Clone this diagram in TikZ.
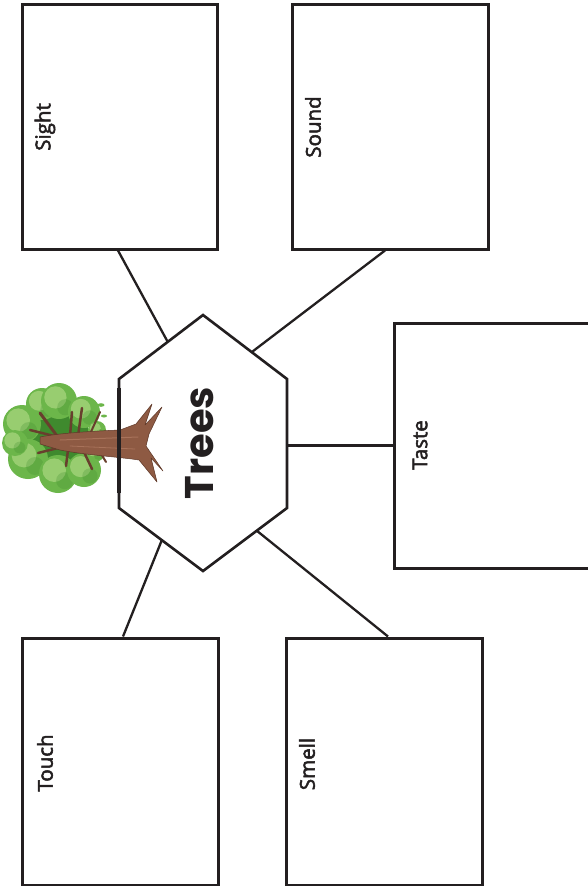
\documentclass[tikz,border=0pt]{standalone}
\usepackage{fontspec}
\newfontfamily\labelfont[FakeBold=2.5]{Open Sans}
\newfontfamily\titlefont{Poppins}
\usetikzlibrary{calc}
\definecolor{ink}{HTML}{231F20}
\definecolor{leafdark}{HTML}{3F8A2E}
\definecolor{leafmid}{HTML}{6CB64A}
\definecolor{leaflight}{HTML}{A8D67E}
\definecolor{bark}{HTML}{8E5A43}
\definecolor{barklight}{HTML}{A8725A}
\definecolor{barkdark}{HTML}{5E3828}
\tikzset{
  sensebox/.style={draw=ink, line width=3pt, fill=white, inner sep=0pt},
  senselabel/.style={font=\labelfont\fontsize{20.5}{20.5}\selectfont, text=ink, rotate=90, inner sep=0pt},
  title/.style={font=\titlefont\bfseries\fontsize{40}{40}\selectfont, text=ink, rotate=90, inner sep=0pt},
  link/.style={draw=ink, line width=2.3pt},
  hexline/.style={draw=ink, line width=2.6pt, line join=miter},
  branch/.style={draw=barkdark!80!bark, line cap=round},
}
\begin{document}
\begin{tikzpicture}[x=1pt, y=-1pt]
\useasboundingbox (0,0) rectangle (588,886);
\clip (0,0) rectangle (588,886);
\fill[white] (0,0) rectangle (588,886);

% sense boxes
\node[sensebox, minimum width=195pt, minimum height=245pt] (sight) at (119.5,126.5) {};
\node[sensebox, minimum width=196pt, minimum height=245pt] (sound) at (390,126.5) {};
\node[sensebox, minimum width=196pt, minimum height=245pt] (taste) at (492,445.5) {};
\node[sensebox, minimum width=196pt, minimum height=247pt] (touch) at (120,761.5) {};
\node[sensebox, minimum width=196pt, minimum height=247pt] (smell) at (384,761.5) {};

\node[senselabel] (sightlbl) at (45,127) {Sight};
\node[senselabel] (soundlbl) at (313,127) {Sound};
\node[senselabel] (tastelbl) at (420,445) {Taste};
\node[senselabel] (touchlbl) at (45,763) {Touch};
\node[senselabel] (smelllbl) at (307,764) {Smell};

% central hexagon
\coordinate (hT)  at (203,315);
\coordinate (hUR) at (287,379);
\coordinate (hLR) at (287,508);
\coordinate (hB)  at (203,571);
\coordinate (hLL) at (119,508);
\coordinate (hUL) at (119,379);
\filldraw[hexline, fill=white] (hT) -- (hUR) -- (hLR) -- (hB) -- (hLL) -- (hUL) -- cycle;

% points where the connectors meet the hexagon
\coordinate (pSight) at ($(hT)!0.42!(hUL)$);
\coordinate (pSound) at ($(hT)!0.58!(hUR)$);
\coordinate (pTaste) at (287,445.5);
\coordinate (pTouch) at ($(hB)!0.49!(hLL)$);
\coordinate (pSmell) at ($(hB)!0.64!(hLR)$);

\draw[link] ([xshift=-1.5pt]sight.south) -- (pSight);
\draw[link] ([xshift=-5pt]sound.south) -- (pSound);
\draw[link] (taste.west) -- (pTaste);
\draw[link] ([xshift=3pt]touch.north) -- (pTouch);
\draw[link] ([xshift=4pt]smell.north) -- (pSmell);

% tree lying on its side: foliage
\fill[leafdark] (54,442) circle (37);
\foreach \cx/\cy/\r in {22/424/19, 42/404/16, 59/401/18, 84/412/16, 97/430/9, 28/459/20, 58/474/19, 84/470/17, 95/452/10, 15/443/13}{
  \fill[leafmid] (\cx,\cy) circle (\r);
  \fill[leaflight, opacity=0.75] (\cx-0.2*\r,\cy-0.2*\r) circle (0.62*\r);
  \fill[leafdark, opacity=0.25] (\cx+0.35*\r,\cy+0.35*\r) circle (0.45*\r);
}
\fill[leafmid] (101,405) ellipse (3.5 and 1.8);
\fill[leafmid] (104,416) ellipse (3 and 1.5);

% branches
\draw[branch, line width=3pt] (60,440) -- (40,413);
\draw[branch, line width=2.5pt] (62,438) -- (30,430);
\draw[branch, line width=2.5pt] (70,436) -- (72,412);
\draw[branch, line width=2.5pt] (78,436) -- (82,408);
\draw[branch, line width=2pt] (90,434) -- (100,412);
\draw[branch, line width=2.5pt] (62,447) -- (38,453);
\draw[branch, line width=2.5pt] (68,450) -- (66,466);
\draw[branch, line width=2.5pt] (84,452) -- (92,469);
\draw[branch, line width=2pt] (100,452) -- (106,462);

% trunk with roots
\filldraw[fill=bark, draw=barkdark, line width=0.5pt, line join=round]
  (40,437) .. controls (60,433) and (95,431) .. (120,430)
  -- (136,424) -- (152,404) -- (145,425) -- (162,407) -- (149,434)
  -- (146,446) -- (163,471) -- (151,458) -- (157,482) -- (139,460)
  .. controls (120,457) and (85,455) .. (60,450)
  -- (40,444) -- cycle;
\draw[barklight, line width=1pt, line cap=round] (60,440) -- (138,437);
\draw[barklight, line width=0.8pt, line cap=round] (70,446) -- (135,449);

% heavy stroke on the hexagon's left side, over the trunk
\draw[draw=ink, line width=4.8pt] (119,388) -- (119,493);

% title
\node[title] (trees) at (200,443) {Trees};
\end{tikzpicture}
\end{document}
